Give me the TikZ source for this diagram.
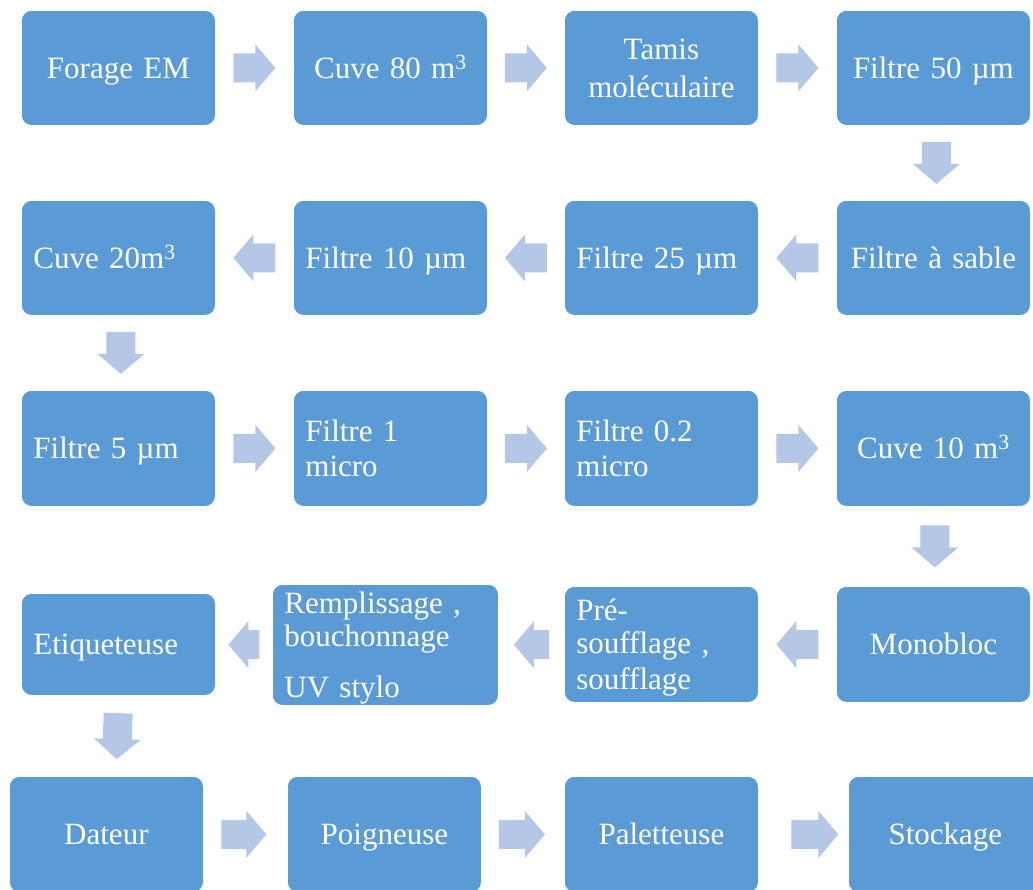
\documentclass[tikz,border=0pt]{standalone}
\usepackage{fontspec}
\setmainfont{Liberation Serif}
\usetikzlibrary{calc}
\definecolor{boxblue}{HTML}{5B9BD5}
\definecolor{arrowblue}{HTML}{B4C7E7}
\newcommand\boxstrut{\rule[-6.7pt]{0pt}{34.3pt}}
\tikzset{
  stepbox/.style={fill=boxblue, draw=white, line width=0.8pt, rounded corners=10pt,
    minimum width=194pt, minimum height=115pt, text width=170pt,
    inner xsep=12pt, inner ysep=0pt, text=white,
    font=\fontsize{31}{33}\selectfont, anchor=north west,
    execute at begin node=\boxstrut, execute at end node=\boxstrut},
  ctr/.style={align=center},
  lft/.style={align=left},
  pics/barrow/.style={code={
    \pgfmathsetmacro{\barhalf}{#1/2}
    \fill[arrowblue] (-\barhalf,-14.5) -- (\barhalf-20,-14.5) -- (\barhalf-20,-23.5)
      -- (\barhalf,0) -- (\barhalf-20,23.5) -- (\barhalf-20,14.5) -- (-\barhalf,14.5) -- cycle;
  }}
}
\begin{document}
\begin{tikzpicture}[x=1pt,y=-1pt]
\useasboundingbox (0,0) rectangle (1033,889);
% row 1
\node[stepbox, ctr] (forage) at (21,10) {Forage EM};
\node[stepbox, ctr] (cuve80) at (293,10) {Cuve 80 m\textsuperscript{3}};
\node[stepbox, ctr] (tamis) at (564,10) {Tamis\\[3pt]moléculaire};
\node[stepbox, ctr] (f50) at (836,10) {Filtre 50 µm};
% row 2
\node[stepbox, ctr] (sable) at (836,200) {Filtre à sable};
\node[stepbox, lft] (f25) at (564,200) {Filtre 25 µm};
\node[stepbox, lft] (f10) at (293,200) {Filtre 10 µm};
\node[stepbox, lft] (cuve20) at (21,200) {Cuve 20m\textsuperscript{3}};
% row 3
\node[stepbox, lft, minimum height=116pt] (f5) at (21,390) {Filtre 5 µm};
\node[stepbox, lft, minimum height=116pt] (f1) at (293,390) {Filtre 1\\micro};
\node[stepbox, lft, minimum height=116pt] (f02) at (564,390) {Filtre 0.2\\micro};
\node[stepbox, ctr, minimum height=116pt] (cuve10) at (836,390) {Cuve 10 m\textsuperscript{3}};
% row 4
\node[stepbox, ctr, minimum height=116pt] (mono) at (836,586) {Monobloc};
\node[stepbox, lft, minimum height=116pt] (pre) at (564,586) {Pré-\\soufflage ,\\soufflage};
\node[stepbox, lft, minimum width=226pt, text width=202pt, minimum height=121pt] (rempl) at (272,584) {Remplissage ,\\bouchonnage\\[15pt]UV stylo};
\node[stepbox, lft, minimum height=102pt] (etiq) at (21,593) {Etiqueteuse};
% row 5
\node[stepbox, ctr, minimum height=116pt] (dateur) at (9,776) {Dateur};
\node[stepbox, ctr, minimum height=116pt] (poign) at (287,776) {Poigneuse};
\node[stepbox, ctr, minimum height=116pt] (palet) at (564,776) {Paletteuse};
\node[stepbox, ctr, minimum height=116pt] (stock) at (848,776) {Stockage};
% arrows row 1
\pic at ($(forage.east)!0.5!(cuve80.west)$) {barrow=42};
\pic at ($(cuve80.east)!0.5!(tamis.west)$) {barrow=42};
\pic at ($(tamis.east)!0.5!(f50.west)$) {barrow=42};
\pic[rotate=-90, yshift=3pt] at ($(f50.south)!0.5!(sable.north)$) {barrow=42};
% arrows row 2
\pic[rotate=180] at ($(sable.west)!0.5!(f25.east)$) {barrow=42};
\pic[rotate=180] at ($(f25.west)!0.5!(f10.east)$) {barrow=42};
\pic[rotate=180] at ($(f10.west)!0.5!(cuve20.east)$) {barrow=42};
\pic[rotate=-90, yshift=2.5pt] at ($(cuve20.south)!0.5!(f5.north)$) {barrow=42};
% arrows row 3
\pic at ($(f5.east)!0.5!(f1.west)$) {barrow=42};
\pic at ($(f1.east)!0.5!(f02.west)$) {barrow=42};
\pic at ($(f02.east)!0.5!(cuve10.west)$) {barrow=42};
\pic[rotate=-90, yshift=1.5pt] at ($(cuve10.south)!0.5!(mono.north)$) {barrow=42};
% arrows row 4
\pic[rotate=180] at ($(mono.west)!0.5!(pre.east)$) {barrow=42};
\pic[rotate=180] at ($(pre.west)!0.5!(rempl.east)$) {barrow=35};
\pic[rotate=180] at ($(rempl.west)!0.5!(etiq.east)$) {barrow=31};
\pic[rotate=-92, yshift=5pt] at ($(etiq.south)!0.5!(dateur.north)$) {barrow=46};
% arrows row 5
\pic[xshift=-1.5pt] at ($(dateur.east)!0.5!(poign.west)$) {barrow=45};
\pic[xshift=-1pt] at ($(poign.east)!0.5!(palet.west)$) {barrow=46};
\pic[xshift=11.5pt] at ($(palet.east)!0.5!(stock.west)$) {barrow=47};
\end{tikzpicture}
\end{document}
